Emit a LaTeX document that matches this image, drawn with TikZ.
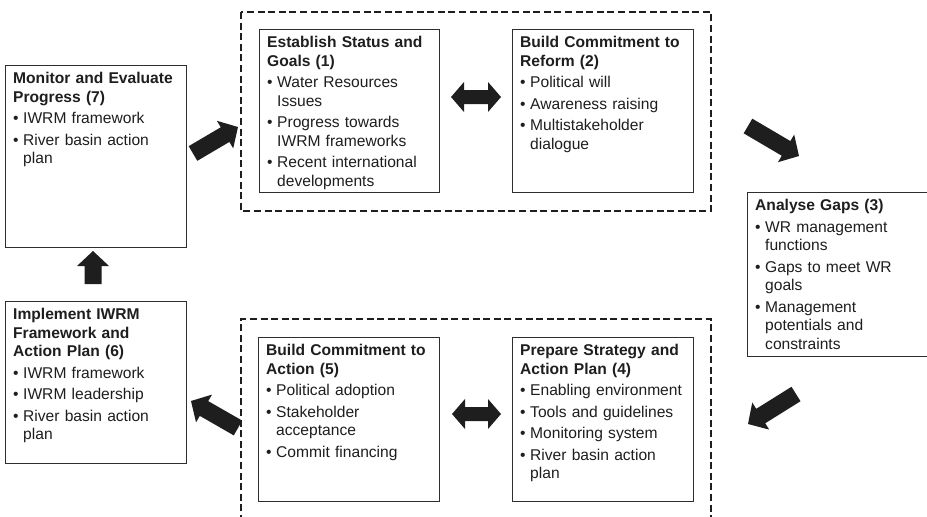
\documentclass[tikz,border=0pt]{standalone}
\usepackage{fontspec}
\setmainfont{Liberation Sans}
\usetikzlibrary{calc}
\definecolor{ink}{HTML}{1E1E1E}
\definecolor{boxline}{HTML}{2E2E2E}

\newcommand\ttl[1]{{\noindent\bfseries #1\par}}
\newcommand\bul[1]{\hangindent=10pt\hangafter=1\noindent\makebox[10pt][l]{\textbullet}#1\par}

% block arrow from tail (#1,#2) to tip (#3,#4)
\newcommand\blockarrow[4]{%
  \pgfmathsetmacro\baang{atan2(-(#4-#2),#3-#1)}%
  \pgfmathsetmacro\balen{veclen(#3-#1,#4-#2)}%
  \fill[ink, shift={(#1,#2)}, rotate=\baang]
    (0,-8.5) -- ({\balen-15},-8.5) -- ({\balen-15},-16) -- (\balen,0)
    -- ({\balen-15},16) -- ({\balen-15},8.5) -- (0,8.5) -- cycle;}

% horizontal double arrow from x=#1 to x=#2 at height #3
\newcommand\dblarrow[3]{%
  \fill[ink] (#1,#3) -- ({#1+13},{#3-15}) -- ({#1+13},{#3-7})
    -- ({#2-13},{#3-7}) -- ({#2-13},{#3-15}) -- (#2,#3)
    -- ({#2-13},{#3+15}) -- ({#2-13},{#3+7}) -- ({#1+13},{#3+7})
    -- ({#1+13},{#3+15}) -- cycle;}

\begin{document}
\begin{tikzpicture}[x=1pt,y=-1pt,
  box/.style={draw=boxline, line width=1.2pt, anchor=north west, inner sep=0pt},
  txt/.style={anchor=north west, inner sep=0pt, text width=172pt, align=left, text=ink,
    font=\fontsize{15.6pt}{18.5pt}\selectfont\setlength{\parskip}{3pt}},
  group/.style={draw=ink, line width=2.1pt, dash pattern=on 7pt off 3.6pt}]
\useasboundingbox[fill=white] (0,0) rectangle (927,517);

% dashed groups
\draw[group] (241,12) rectangle (711,211);
\draw[group] (241,522) -- (241,319) -- (711,319) -- (711,522);

% boxes
\node[box, minimum width=181pt, minimum height=182pt] (b7) at (5,65) {};
\node[box, minimum width=180pt, minimum height=163pt] (b1) at (259,29) {};
\node[box, minimum width=181pt, minimum height=163pt] (b2) at (512,29) {};
\node[box, minimum width=182pt, minimum height=164pt] (b3) at (747,192) {};
\node[box, minimum width=181pt, minimum height=164pt] (b4) at (512,337) {};
\node[box, minimum width=181pt, minimum height=164pt] (b5) at (258,337) {};
\node[box, minimum width=181pt, minimum height=162pt] (b6) at (5,301) {};

% texts
\node[txt] (t7) at ($(b7.north west)+(8,7)$) {\ttl{Monitor and Evaluate\newline Progress (7)}\bul{IWRM framework}\bul{River basin action\newline plan}};
\node[txt] (t1) at ($(b1.north west)+(8,7)$) {\ttl{Establish Status and\newline Goals (1)}\bul{Water Resources\newline Issues}\bul{Progress towards\newline IWRM frameworks}\bul{Recent international\newline developments}};
\node[txt] (t2) at ($(b2.north west)+(8,7)$) {\ttl{Build Commitment to\newline Reform (2)}\bul{Political will}\bul{Awareness raising}\bul{Multistakeholder\newline dialogue}};
\node[txt] (t3) at ($(b3.north west)+(8,7)$) {\ttl{Analyse Gaps (3)}\bul{WR management\newline functions}\bul{Gaps to meet WR\newline goals}\bul{Management\newline potentials and\newline constraints}};
\node[txt] (t4) at ($(b4.north west)+(8,7)$) {\ttl{Prepare Strategy and\newline Action Plan (4)}\bul{Enabling environment}\bul{Tools and guidelines}\bul{Monitoring system}\bul{River basin action\newline plan}};
\node[txt] (t5) at ($(b5.north west)+(8,7)$) {\ttl{Build Commitment to\newline Action (5)}\bul{Political adoption}\bul{Stakeholder\newline acceptance}\bul{Commit financing}};
\node[txt] (t6) at ($(b6.north west)+(8,7)$) {\ttl{Implement IWRM\newline Framework and\newline Action Plan (6)}\bul{IWRM framework}\bul{IWRM leadership}\bul{River basin action\newline plan}};

% arrows
\blockarrow{193}{153.5}{238}{127}
\blockarrow{748}{126}{799}{156}
\blockarrow{796}{394}{748}{424}
\blockarrow{238}{428}{191}{401}
\blockarrow{93}{284}{93}{251}
\dblarrow{451}{501}{97}
\dblarrow{452}{501}{414}
\end{tikzpicture}
\end{document}
